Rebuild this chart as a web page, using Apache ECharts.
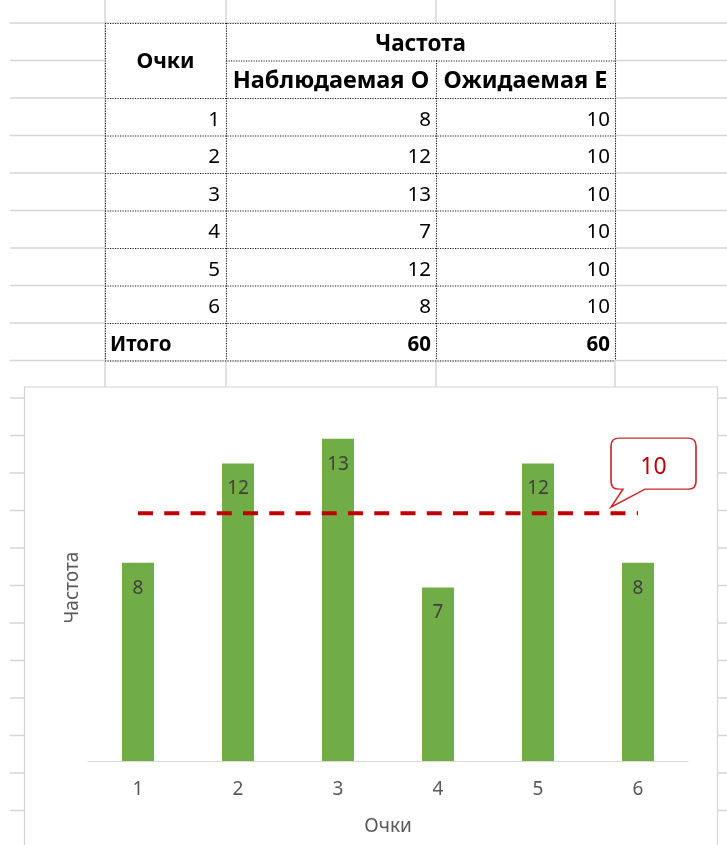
<!DOCTYPE html>
<html>
<head>
<meta charset="utf-8">
<title>Очки — частота</title>
<script src="https://cdn.jsdelivr.net/npm/echarts@6/dist/echarts.min.js"></script>
<style>
  html, body { margin: 0; padding: 0; background: #ffffff; }
  #chart { width: 727px; height: 845px; }
</style>
</head>
<body>
<div id="chart"></div>
<script>
// Die scores and their frequencies
const scores = ['1', '2', '3', '4', '5', '6'];
const observed = [8, 12, 13, 7, 12, 8];
const expected = [10, 10, 10, 10, 10, 10];
const totalLabel = 'Итого';
const scoreTitle = 'Очки';
const freqTitle = 'Частота';
const observedTitle = 'Наблюдаемая O';
const expectedTitle = 'Ожидаемая E';
const valueAxisMax = 14;

const sum = arr => arr.reduce((a, b) => a + b, 0);

// ---- sheet geometry ----
const FONT = '"Noto Sans", "DejaVu Sans", sans-serif';
const colX = [105, 226, 436, 615];
const rowTop = 23, rowH = 37.5;
const rowY = k => rowTop + rowH * k;
const GRID_COLOR = '#d6d6d6';
const BORDER = { stroke: '#1a1a1a', lineWidth: 1.1, lineDash: [1.2, 1.3] };

const elements = [];

// spreadsheet gridlines
for (let k = 0; k < 22; k++) {
  const y = rowY(k);
  elements.push({ type: 'line', z: -10, silent: true,
    shape: { x1: 10, y1: y, x2: 727, y2: y },
    style: { stroke: GRID_COLOR, lineWidth: 1.5 } });
}
colX.forEach(x => {
  elements.push({ type: 'line', z: -10, silent: true,
    shape: { x1: x, y1: 0, x2: x, y2: 390 },
    style: { stroke: GRID_COLOR, lineWidth: 1.5 } });
});

// table background
elements.push({ type: 'rect', z: -5, silent: true,
  shape: { x: colX[0], y: rowY(0), width: colX[3] - colX[0], height: rowY(9) - rowY(0) },
  style: { fill: '#ffffff' } });

// dotted table borders
const hLine = (y, x1, x2) => elements.push({ type: 'line', z: 5, silent: true,
  shape: { x1: x1, y1: y + 0.5, x2: x2, y2: y + 0.5 }, style: BORDER });
const vLine = (x, y1, y2) => elements.push({ type: 'line', z: 5, silent: true,
  shape: { x1: x + 0.5, y1: y1, x2: x + 0.5, y2: y2 }, style: BORDER });

hLine(rowY(0), colX[0], colX[3]);
hLine(rowY(1), colX[1], colX[3]);
for (let k = 2; k <= 9; k++) hLine(rowY(k), colX[0], colX[3]);
vLine(colX[0], rowY(0), rowY(9));
vLine(colX[1], rowY(0), rowY(9));
vLine(colX[2], rowY(1), rowY(9));
vLine(colX[3], rowY(0), rowY(9));

const cellText = (text, x, y, align, bold, size) => elements.push({
  type: 'text', z: 6, silent: true,
  style: { text: String(text), x: x, y: y, align: align, verticalAlign: 'middle',
    fill: '#000000', fontFamily: FONT, fontSize: size, fontWeight: bold ? 'bold' : 'normal' }
});

// header
cellText(scoreTitle, (colX[0] + colX[1]) / 2, 61.5, 'center', true, 21.5);
cellText(freqTitle, (colX[1] + colX[3]) / 2, 45, 'center', true, 22.5);
cellText(observedTitle, (colX[1] + colX[2]) / 2, 81, 'center', true, 23.5);
cellText(expectedTitle, (colX[2] + colX[3]) / 2, 81, 'center', true, 23.5);

// data rows
scores.forEach((s, i) => {
  const y = rowY(i + 2) + 22;
  cellText(s, colX[1] - 6, y, 'right', false, 20.5);
  cellText(observed[i], colX[2] - 5, y, 'right', false, 20.5);
  cellText(expected[i], colX[3] - 5, y, 'right', false, 20.5);
});
// totals
const yT = rowY(8) + 22;
cellText(totalLabel, colX[0] + 5, yT, 'left', true, 20.5);
cellText(sum(observed), colX[2] - 5, yT, 'right', true, 20.5);
cellText(sum(expected), colX[3] - 5, yT, 'right', true, 20.5);

// chart frame
elements.push({ type: 'rect', z: -4, silent: true,
  shape: { x: 24.5, y: 387, width: 693, height: 480 },
  style: { fill: '#ffffff', stroke: '#d4d4d4', lineWidth: 1.2 } });

const chart = echarts.init(document.getElementById('chart'), null, { renderer: 'canvas' });

const lastIdx = expected.length - 1;

chart.setOption({
  animation: false,
  backgroundColor: '#ffffff',
  textStyle: { fontFamily: FONT },
  graphic: { elements: elements },
  grid: { left: 88, width: 600, top: 414, height: 347, containLabel: false },
  xAxis: {
    type: 'category',
    data: scores,
    boundaryGap: true,
    axisLine: { lineStyle: { color: '#d9d9d9', width: 1.2 } },
    axisTick: { show: false },
    axisLabel: { color: '#595959', fontSize: 19, margin: 19, fontFamily: FONT },
    name: scoreTitle,
    nameLocation: 'middle',
    nameGap: 56,
    nameTextStyle: { color: '#595959', fontSize: 19, fontFamily: FONT }
  },
  yAxis: {
    type: 'value',
    min: 0,
    max: valueAxisMax,
    interval: 2,
    axisLine: { show: false },
    axisTick: { show: false },
    axisLabel: { show: false },
    splitLine: { show: false },
    name: freqTitle,
    nameLocation: 'middle',
    nameRotate: 90,
    nameGap: 6,
    nameTextStyle: { color: '#595959', fontSize: 19, fontFamily: FONT }
  },
  series: [
    {
      name: observedTitle,
      type: 'bar',
      data: observed,
      barWidth: 32,
      itemStyle: { color: '#70ad47' },
      label: {
        show: true,
        position: 'insideTop',
        distance: 16,
        color: '#404040',
        fontSize: 19,
        fontFamily: FONT
      },
      z: 2
    },
    {
      name: expectedTitle,
      type: 'line',
      data: expected,
      symbol: 'none',
      lineStyle: { color: '#c00000', width: 4, type: [15, 11.25], cap: 'butt' },
      z: 3,
      markPoint: {
        symbol: 'path://M8,0H77Q85,0,85,8V43Q85,51,77,51H34L0,69L12,51H8Q0,51,0,43V8Q0,0,8,0Z',
        symbolSize: [85, 69],
        symbolOffset: [15.5, -40.5],
        itemStyle: { color: '#ffffff', borderColor: '#cc2b2b', borderWidth: 1.5 },
        label: {
          show: true,
          position: 'inside',
          formatter: '{c}',
          color: '#c00000',
          fontSize: 23,
          fontFamily: FONT,
          offset: [0, -5]
        },
        data: [{ coord: [scores[lastIdx], expected[lastIdx]], value: expected[lastIdx] }]
      }
    }
  ]
});
</script>
</body>
</html>
